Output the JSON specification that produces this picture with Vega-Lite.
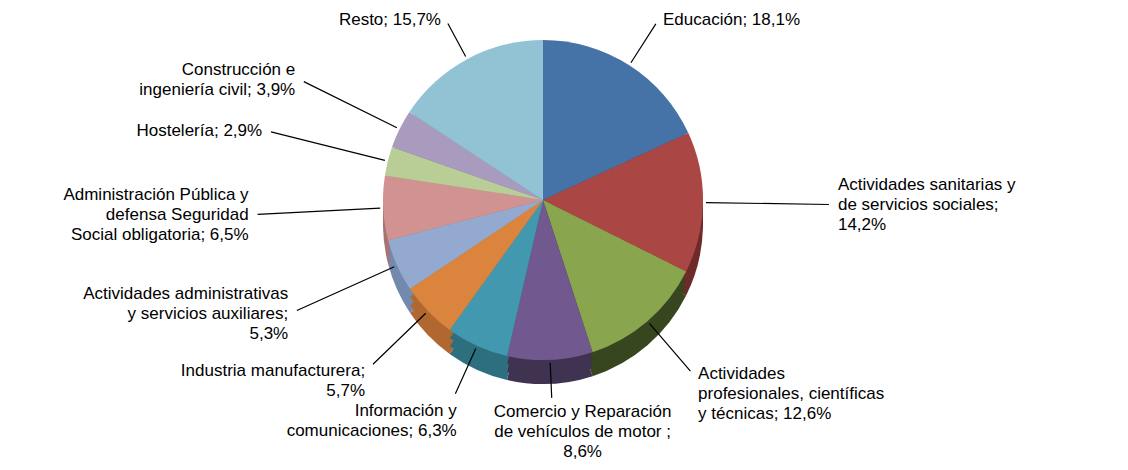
{
  "$schema": "https://vega.github.io/schema/vega-lite/v6.json",
  "width": 1086,
  "height": 400,
  "autosize": {"type": "none"},
  "padding": {"left": 0, "top": 0, "right": 42, "bottom": 70},
  "background": "white",
  "config": {"view": {"stroke": null}},
  "data": {
    "values": [
      {"idx": 1, "cat": "Educación", "value": 18.1, "label": "Educación; 18,1%"},
      {"idx": 2, "cat": "Actividades sanitarias y de servicios sociales", "value": 14.2, "label": "Actividades sanitarias y\nde servicios sociales;\n14,2%"},
      {"idx": 3, "cat": "Actividades profesionales, científicas y técnicas", "value": 12.6, "label": "Actividades\nprofesionales, científicas\ny técnicas; 12,6%"},
      {"idx": 4, "cat": "Comercio y Reparación de vehículos de motor", "value": 8.6, "label": "Comercio y Reparación\nde vehículos de motor ;\n8,6%"},
      {"idx": 5, "cat": "Información y comunicaciones", "value": 6.3, "label": "Información y\ncomunicaciones; 6,3%"},
      {"idx": 6, "cat": "Industria manufacturera", "value": 5.7, "label": "Industria manufacturera;\n5,7%"},
      {"idx": 7, "cat": "Actividades administrativas y servicios auxiliares", "value": 5.3, "label": "Actividades administrativas\ny servicios auxiliares;\n5,3%"},
      {"idx": 8, "cat": "Administración Pública y defensa Seguridad Social obligatoria", "value": 6.5, "label": "Administración Pública y\ndefensa Seguridad\nSocial obligatoria; 6,5%"},
      {"idx": 9, "cat": "Hostelería", "value": 2.9, "label": "Hostelería; 2,9%"},
      {"idx": 10, "cat": "Construcción e ingeniería civil", "value": 3.9, "label": "Construcción e\ningeniería civil; 3,9%"},
      {"idx": 11, "cat": "Resto", "value": 15.7, "label": "Resto; 15,7%"}
    ]
  },
  "layer": [
    {
      "mark": {"type": "arc", "outerRadius": 160, "yOffset": 24},
      "encoding": {
        "theta": {"field": "value", "type": "quantitative", "stack": true},
        "order": {"field": "idx", "type": "quantitative"},
        "color": {"field": "cat", "type": "nominal", "legend": null,
          "scale": {"domain": ["Educación", "Actividades sanitarias y de servicios sociales", "Actividades profesionales, científicas y técnicas", "Comercio y Reparación de vehículos de motor", "Información y comunicaciones", "Industria manufacturera", "Actividades administrativas y servicios auxiliares", "Administración Pública y defensa Seguridad Social obligatoria", "Hostelería", "Construcción e ingeniería civil", "Resto"],
            "range": ["#30507A", "#6E2B29", "#37461F", "#3F3351", "#2E6F7F", "#B06830", "#7389AE", "#A87372", "#95A876", "#857899", "#6E9FB0"]}}
      }
    },
    {
      "mark": {"type": "arc", "outerRadius": 160, "yOffset": 16},
      "encoding": {
        "theta": {"field": "value", "type": "quantitative", "stack": true},
        "order": {"field": "idx", "type": "quantitative"},
        "color": {"field": "cat", "type": "nominal", "legend": null,
          "scale": {"domain": ["Educación", "Actividades sanitarias y de servicios sociales", "Actividades profesionales, científicas y técnicas", "Comercio y Reparación de vehículos de motor", "Información y comunicaciones", "Industria manufacturera", "Actividades administrativas y servicios auxiliares", "Administración Pública y defensa Seguridad Social obligatoria", "Hostelería", "Construcción e ingeniería civil", "Resto"],
            "range": ["#30507A", "#6E2B29", "#37461F", "#3F3351", "#2E6F7F", "#B06830", "#7389AE", "#A87372", "#95A876", "#857899", "#6E9FB0"]}}
      }
    },
    {
      "mark": {"type": "arc", "outerRadius": 160, "yOffset": 8},
      "encoding": {
        "theta": {"field": "value", "type": "quantitative", "stack": true},
        "order": {"field": "idx", "type": "quantitative"},
        "color": {"field": "cat", "type": "nominal", "legend": null,
          "scale": {"domain": ["Educación", "Actividades sanitarias y de servicios sociales", "Actividades profesionales, científicas y técnicas", "Comercio y Reparación de vehículos de motor", "Información y comunicaciones", "Industria manufacturera", "Actividades administrativas y servicios auxiliares", "Administración Pública y defensa Seguridad Social obligatoria", "Hostelería", "Construcción e ingeniería civil", "Resto"],
            "range": ["#30507A", "#6E2B29", "#37461F", "#3F3351", "#2E6F7F", "#B06830", "#7389AE", "#A87372", "#95A876", "#857899", "#6E9FB0"]}}
      }
    },
    {
      "mark": {"type": "arc", "outerRadius": 160},
      "encoding": {
        "theta": {"field": "value", "type": "quantitative", "stack": true},
        "order": {"field": "idx", "type": "quantitative"},
        "color": {"field": "cat", "type": "nominal", "legend": null,
          "scale": {"domain": ["Educación", "Actividades sanitarias y de servicios sociales", "Actividades profesionales, científicas y técnicas", "Comercio y Reparación de vehículos de motor", "Información y comunicaciones", "Industria manufacturera", "Actividades administrativas y servicios auxiliares", "Administración Pública y defensa Seguridad Social obligatoria", "Hostelería", "Construcción e ingeniería civil", "Resto"],
            "range": ["#4572A7", "#AA4643", "#89A54E", "#71588F", "#4198AF", "#DB843D", "#93A9CF", "#D19392", "#B9CD96", "#A99BBD", "#92C3D5"]}}
      }
    },
    {
      "mark": {"type": "arc", "innerRadius": 163, "filled": false, "color": "#000000", "strokeWidth": 1.2, "padAngle": 3,
        "outerRadius": {"expr": "sqrt(pow(290*sin(PI*(datum.value_start+datum.value_end)/99.8),2)+pow(172*cos(PI*(datum.value_start+datum.value_end)/99.8),2)) - 4 + (cos(PI*(datum.value_start+datum.value_end)/99.8) < 0 ? max(0, 60*pow(cos(PI*(datum.value_start+datum.value_end)/99.8),4) - length(split(datum.label,'\\n'))*10) * (-cos(PI*(datum.value_start+datum.value_end)/99.8)) : 0)"}},
      "encoding": {
        "theta": {"field": "value", "type": "quantitative", "stack": true},
        "order": {"field": "idx", "type": "quantitative"},
        "detail": {"field": "cat", "type": "nominal"}
      }
    },
    {
      "mark": {"type": "text", "radius": 175, "font": "Liberation Sans", "fontSize": 17, "lineHeight": 20, "lineBreak": "\n", "color": "#000000",
        "baseline": "middle",
        "align": {"expr": "abs(sin(PI*(datum.value_start+datum.value_end)/99.8)) < 0.3 ? 'center' : (sin(PI*(datum.value_start+datum.value_end)/99.8) > 0 ? 'left' : 'right')"},
        "dx": {"expr": "(sqrt(pow(290*sin(PI*(datum.value_start+datum.value_end)/99.8),2)+pow(172*cos(PI*(datum.value_start+datum.value_end)/99.8),2)) - 175)*sin(PI*(datum.value_start+datum.value_end)/99.8) + (abs(sin(PI*(datum.value_start+datum.value_end)/99.8)) < 0.3 ? 32 : (sin(PI*(datum.value_start+datum.value_end)/99.8) > 0 ? 5 : -5))"},
        "dy": {"expr": "-(sqrt(pow(290*sin(PI*(datum.value_start+datum.value_end)/99.8),2)+pow(172*cos(PI*(datum.value_start+datum.value_end)/99.8),2)) - 175)*cos(PI*(datum.value_start+datum.value_end)/99.8) + (cos(PI*(datum.value_start+datum.value_end)/99.8) < 0 ? 60*pow(cos(PI*(datum.value_start+datum.value_end)/99.8),4) : 0) - (length(split(datum.label,'\\n')) - 1)*10"}},
      "encoding": {
        "theta": {"field": "value", "type": "quantitative", "stack": true},
        "order": {"field": "idx", "type": "quantitative"},
        "detail": {"field": "cat", "type": "nominal"},
        "text": {"field": "label", "type": "nominal"}
      }
    }
  ],
  "resolve": {"scale": {"color": "independent"}}
}
